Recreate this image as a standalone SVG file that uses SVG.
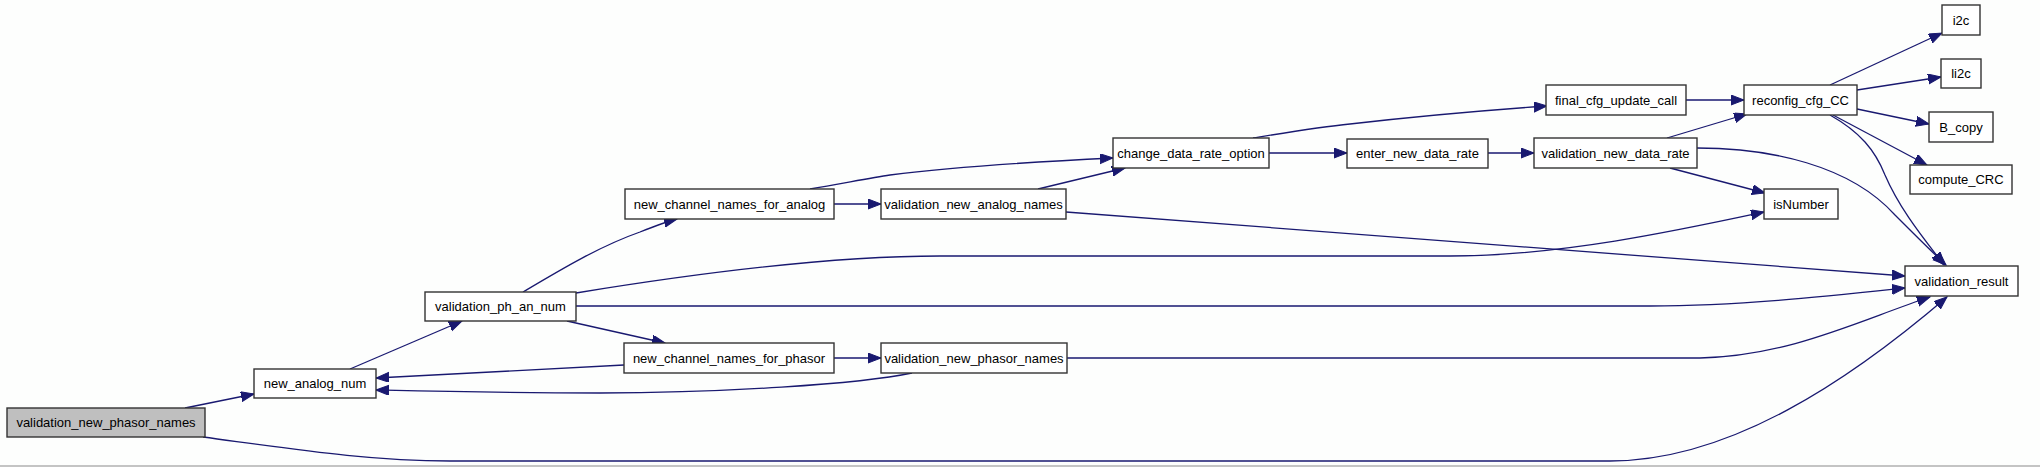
<svg xmlns="http://www.w3.org/2000/svg" width="2040" height="467" viewBox="0 0 2040 467">
<defs>
<style>
.node rect{fill:#ffffff;stroke:#333333;stroke-width:1.4}
.node.root rect{fill:#bfbfbf}
.node text{font-family:"Liberation Sans",Arial,sans-serif;font-size:13px;fill:#000000;text-anchor:middle}
.edges path{fill:none;stroke:#191970;stroke-width:1.3;marker-end:url(#arr)}
</style>
<marker id="arr" markerUnits="userSpaceOnUse" markerWidth="14" markerHeight="11" refX="13" refY="5" orient="auto">
<path d="M0,0 L13,5 L0,10 Z" fill="#191970" stroke="#191970" stroke-width="1"/>
</marker>
</defs>
<rect x="0" y="0" width="2040" height="467" fill="#fdfefd"/>
<line x1="0" y1="466" x2="2040" y2="466" stroke="#b0b0b0" stroke-width="1.5"/>
<g class="edges" id="edges">
<path d="M185,408 L254,394"/>
<path d="M203,437 C300,450 370,461 450,461 L1610,461 C1730,461 1850,380 1947,297"/>
<path d="M350,369 L462,321"/>
<path d="M523,292 C560,270 600,246 640,232 C655,226 665,222 677,219"/>
<path d="M567,321 L665,343"/>
<path d="M576,293 C680,276 820,256 940,256 L1450,256 C1560,256 1680,230 1764,212"/>
<path d="M576,306 L1650,306 C1740,306 1830,296 1905,288"/>
<path d="M810,189 C840,184 870,178 890,175 C960,166 1050,161 1113,158"/>
<path d="M834,204 L881,204"/>
<path d="M1038,189 L1125,168"/>
<path d="M1066,212 L1905,276"/>
<path d="M624,365 L376,378"/>
<path d="M834,358 L881,358"/>
<path d="M912,373 C860,384 720,393 600,393 C500,393 420,391 376,390"/>
<path d="M1067,358 L1700,358 C1790,356 1860,320 1930,297"/>
<path d="M1253,138 C1290,132 1320,127 1350,124 C1420,116 1490,110 1547,106"/>
<path d="M1269,153 L1347,153"/>
<path d="M1488,153 L1534,153"/>
<path d="M1686,100 L1744,100"/>
<path d="M1667,138 L1747,114"/>
<path d="M1670,168 L1765,193"/>
<path d="M1697,148 C1770,148 1850,165 1895,215 C1915,235 1932,252 1946,265"/>
<path d="M1830,85 L1942,33"/>
<path d="M1857,90 L1941,77"/>
<path d="M1857,109 L1929,124"/>
<path d="M1833,115 L1927,165"/>
<path d="M1830,115 C1860,132 1875,150 1885,175 C1900,210 1925,240 1944,265"/>
</g>
<g class="node root" id="n0"><rect x="7" y="408" width="198" height="29"/><text x="106" y="427">validation_new_phasor_names</text></g>
<g class="node" id="n1"><rect x="254" y="369" width="122" height="29"/><text x="315" y="388">new_analog_num</text></g>
<g class="node" id="n2"><rect x="425" y="292" width="151" height="29"/><text x="500.5" y="311">validation_ph_an_num</text></g>
<g class="node" id="n3"><rect x="625" y="189" width="209" height="30"/><text x="729.5" y="208.5">new_channel_names_for_analog</text></g>
<g class="node" id="n4"><rect x="624" y="343" width="210" height="30"/><text x="729" y="362.5">new_channel_names_for_phasor</text></g>
<g class="node" id="n5"><rect x="881" y="189" width="185" height="30"/><text x="973.5" y="208.5">validation_new_analog_names</text></g>
<g class="node" id="n6"><rect x="881" y="343" width="186" height="30"/><text x="974" y="362.5">validation_new_phasor_names</text></g>
<g class="node" id="n7"><rect x="1113" y="138" width="156" height="30"/><text x="1191" y="157.5">change_data_rate_option</text></g>
<g class="node" id="n8"><rect x="1347" y="139" width="141" height="29"/><text x="1417.5" y="158">enter_new_data_rate</text></g>
<g class="node" id="n9"><rect x="1534" y="138" width="163" height="30"/><text x="1615.5" y="157.5">validation_new_data_rate</text></g>
<g class="node" id="n10"><rect x="1546" y="85" width="140" height="30"/><text x="1616" y="104.5">final_cfg_update_call</text></g>
<g class="node" id="n11"><rect x="1744" y="85" width="113" height="30"/><text x="1800.5" y="104.5">reconfig_cfg_CC</text></g>
<g class="node" id="n12"><rect x="1942" y="5" width="38" height="30"/><text x="1961" y="24.5">i2c</text></g>
<g class="node" id="n13"><rect x="1941" y="59" width="40" height="29"/><text x="1961" y="78">li2c</text></g>
<g class="node" id="n14"><rect x="1929" y="112" width="64" height="30"/><text x="1961" y="131.5">B_copy</text></g>
<g class="node" id="n15"><rect x="1910" y="165" width="102" height="29"/><text x="1961" y="184">compute_CRC</text></g>
<g class="node" id="n16"><rect x="1764" y="189" width="74" height="30"/><text x="1801" y="208.5">isNumber</text></g>
<g class="node" id="n17"><rect x="1905" y="266" width="113" height="30"/><text x="1961.5" y="285.5">validation_result</text></g>
</svg>
